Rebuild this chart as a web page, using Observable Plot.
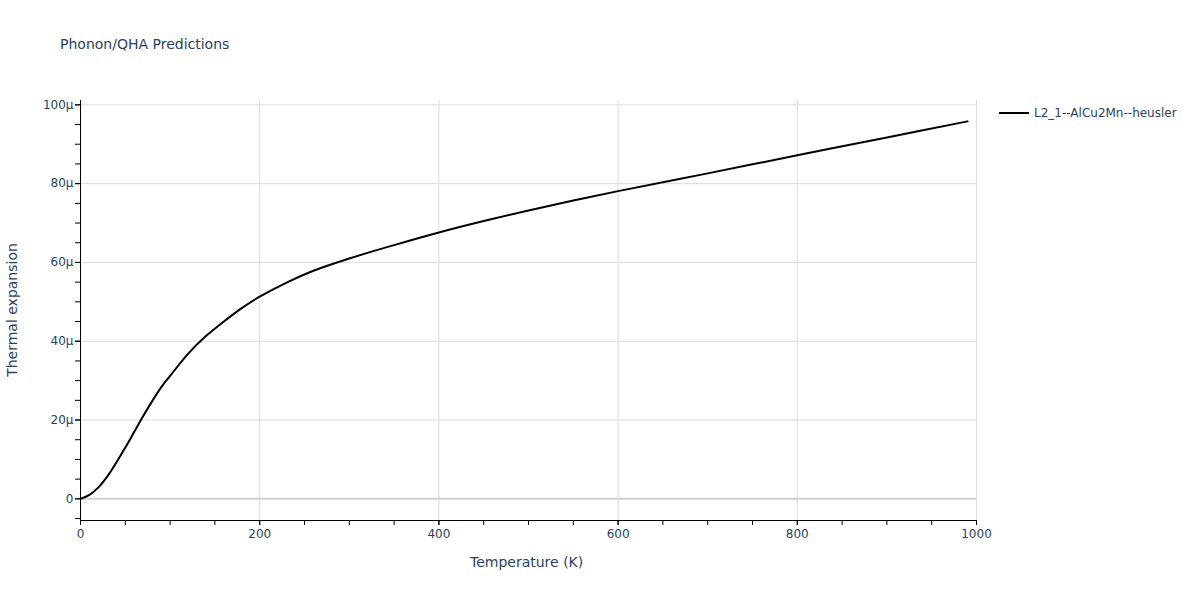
<!DOCTYPE html>
<html>
<head>
<meta charset="utf-8">
<script src="https://cdn.jsdelivr.net/npm/d3@7"></script>
<script src="https://cdn.jsdelivr.net/npm/@observablehq/plot@0.6"></script>
<style>
  html, body { margin: 0; padding: 0; background: #fff; }
  #wrap { position: relative; width: 1200px; height: 600px; font-family: "DejaVu Sans", sans-serif; color: #2a3f5f; }
  .abs { position: absolute; white-space: nowrap; }
</style>
</head>
<body>
<div id="wrap">
  <div class="abs" style="left:60px; top:36px; font-size:14px;">Phonon/QHA Predictions</div>
  <div class="abs" style="left:470px; top:554px; font-size:14px;">Temperature (K)</div>
  <div class="abs" style="left:12px; top:310px; font-size:14px; transform: translate(-50%,-50%) rotate(-90deg);">Thermal expansion</div>
  <div class="abs" style="left:999px; top:106px; font-size:12px; display:flex; align-items:center;">
    <span style="display:inline-block; width:30px; height:2px; background:#000; margin-right:5px;"></span>L2_1--AlCu2Mn--heusler
  </div>
</div>
<script>
// Temperature (K)
const temps = [0, 10, 20, 30, 40, 50, 60, 70, 80, 90, 100, 120, 140, 160, 180, 200, 230, 260, 300, 350, 400, 450, 500, 550, 600, 700, 800, 900, 990];
// Thermal expansion, in units of 1e-6 (µ)
const alpha = [0, 1.0, 2.9, 5.7, 9.2, 13.0, 17.0, 21.0, 24.8, 28.3, 31.2, 36.8, 41.3, 45.0, 48.4, 51.3, 54.9, 57.9, 61.0, 64.4, 67.6, 70.5, 73.2, 75.7, 78.1, 82.6, 87.2, 91.7, 95.8];
const seriesName = "L2_1--AlCu2Mn--heusler";
const xTicks = [0, 200, 400, 600, 800, 1000];
const yTicks = [0, 20, 40, 60, 80, 100];
const xMinor = d3.range(0, 1001, 50);
const yMinor = d3.range(-5, 101, 5);

const data = temps.map((t, i) => ({T: t, a: alpha[i], s: seriesName}));
const yDomain = [-5.5, 101.1];

const chart = Plot.plot({
  width: 1200,
  height: 600,
  marginLeft: 80,
  marginRight: 224,
  marginTop: 100,
  marginBottom: 80,
  style: {fontFamily: "'DejaVu Sans', sans-serif", fontSize: "12px", color: "#2a3f5f", background: "transparent"},
  x: {domain: [0, 1000], label: null},
  y: {domain: yDomain, label: null},
  marks: [
    Plot.gridX(xTicks.filter(d => d !== 0), {stroke: "#dcdcdc", strokeOpacity: 1, strokeWidth: 1}),
    Plot.gridY(yTicks.filter(d => d !== 0), {stroke: "#dcdcdc", strokeOpacity: 1, strokeWidth: 1}),
    Plot.ruleY([0], {stroke: "#d0d0d0", strokeWidth: 2}),
    Plot.line(data, {x: "T", y: "a", stroke: "#000", strokeWidth: 2, curve: "catmull-rom"}),
    Plot.ruleX([0], {y1: yDomain[0], y2: yDomain[1], stroke: "#000", strokeWidth: 1}),
    Plot.ruleY([yDomain[0]], {x1: 0, x2: 1000, stroke: "#000", strokeWidth: 1}),
    Plot.axisX(xMinor, {anchor: "bottom", text: null, tickSize: 5, stroke: "#000", strokeOpacity: 1, label: null}),
    Plot.axisX(xTicks, {anchor: "bottom", tickSize: 5, tickPadding: 4, stroke: "#000", strokeOpacity: 1, label: null, tickFormat: d => String(d)}),
    Plot.axisY(yMinor, {anchor: "left", text: null, tickSize: 5, stroke: "#000", strokeOpacity: 1, label: null}),
    Plot.axisY(yTicks, {anchor: "left", tickSize: 5, tickPadding: 2, stroke: "#000", strokeOpacity: 1, label: null, tickFormat: d => d === 0 ? "0" : d + "µ"})
  ]
});
chart.style.position = "absolute";
chart.style.left = "0px";
chart.style.top = "0px";
document.getElementById("wrap").prepend(chart);
</script>
</body>
</html>
